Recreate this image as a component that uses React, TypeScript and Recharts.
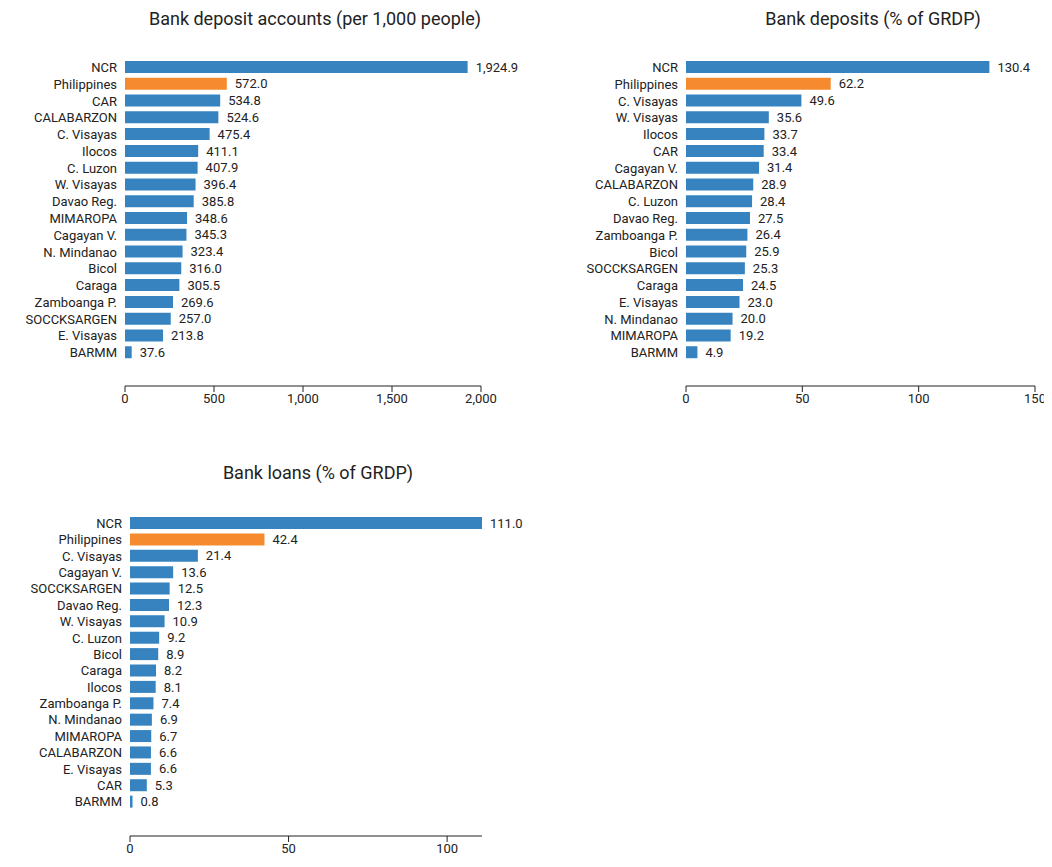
import React from "react";
import { BarChart, Bar, XAxis, YAxis, LabelList, Cell } from "recharts";

const accRegions = ["NCR","Philippines","CAR","CALABARZON","C. Visayas","Ilocos","C. Luzon","W. Visayas","Davao Reg.","MIMAROPA","Cagayan V.","N. Mindanao","Bicol","Caraga","Zamboanga P.","SOCCKSARGEN","E. Visayas","BARMM"];
const accValues = [1924.9,572.0,534.8,524.6,475.4,411.1,407.9,396.4,385.8,348.6,345.3,323.4,316.0,305.5,269.6,257.0,213.8,37.6];
const depRegions = ["NCR","Philippines","C. Visayas","W. Visayas","Ilocos","CAR","Cagayan V.","CALABARZON","C. Luzon","Davao Reg.","Zamboanga P.","Bicol","SOCCKSARGEN","Caraga","E. Visayas","N. Mindanao","MIMAROPA","BARMM"];
const depValues = [130.4,62.2,49.6,35.6,33.7,33.4,31.4,28.9,28.4,27.5,26.4,25.9,25.3,24.5,23.0,20.0,19.2,4.9];
const loanRegions = ["NCR","Philippines","C. Visayas","Cagayan V.","SOCCKSARGEN","Davao Reg.","W. Visayas","C. Luzon","Bicol","Caraga","Ilocos","Zamboanga P.","N. Mindanao","MIMAROPA","CALABARZON","E. Visayas","CAR","BARMM"];
const loanValues = [111.0,42.4,21.4,13.6,12.5,12.3,10.9,9.2,8.9,8.2,8.1,7.4,6.9,6.7,6.6,6.6,5.3,0.8];

const BLUE = "#3683bf";
const ORANGE = "#f58b2e";
const FONT = "Roboto, sans-serif";
const fmt = (v: number) => v.toLocaleString("en-US", { minimumFractionDigits: 1, maximumFractionDigits: 1 });

function Panel(props: any) {
  const { regions, values, domain, ticks, left, top, width, height, yWidth, mt, mr, pad, title, titleX, titleY } = props;
  const data = regions.map((r: string, i: number) => ({ name: r, value: values[i] }));
  return (
    <>
      <div style={{ position: "absolute", left: titleX - 250, top: titleY - 12, width: 500, textAlign: "center", fontFamily: FONT, fontSize: 18, color: "#222" }}>{title}</div>
      <div style={{ position: "absolute", left, top }}>
        <BarChart width={width} height={height} data={data} layout="vertical" margin={{ top: mt, right: mr, bottom: 0, left: 0 }} barCategoryGap={2}>
          <XAxis type="number" domain={domain} ticks={ticks} tickFormatter={(v: number) => v.toLocaleString("en-US")} tick={{ fill: "#222", fontSize: 13, fontFamily: FONT }} stroke="#222" tickSize={6} height={30} />
          <YAxis type="category" dataKey="name" width={yWidth} axisLine={false} tickLine={false} tickSize={0} tickMargin={8} interval={0} padding={{ top: 0, bottom: pad }} tick={{ fill: "#222", fontSize: 13, fontFamily: FONT }} />
          <Bar dataKey="value" isAnimationActive={false} barSize={12}>
            {data.map((d: any, i: number) => <Cell key={i} fill={d.name === "Philippines" ? ORANGE : BLUE} />)}
            <LabelList dataKey="value" position="right" offset={8} formatter={fmt} style={{ fill: "#222", fontSize: 13, fontFamily: FONT }} />
          </Bar>
        </BarChart>
      </div>
    </>
  );
}

export default function App() {
  return (
    <div style={{ position: "relative", width: 1052, height: 867 }}>
      <style>{"svg.recharts-surface{overflow:visible}"}</style>
      <Panel regions={accRegions} values={accValues} domain={[0, 2000]} ticks={[0, 500, 1000, 1500, 2000]} left={-8} top={42} width={560} height={366} yWidth={125} mt={9} mr={79} pad={25} title="Bank deposit accounts (per 1,000 people)" titleX={307} titleY={12} />
      <Panel regions={depRegions} values={depValues} domain={[0, 150]} ticks={[0, 50, 100, 150]} left={552} top={42} width={490} height={366} yWidth={126} mt={9} mr={15} pad={25} title="Bank deposits (% of GRDP)" titleX={865} titleY={12} />
      <Panel regions={loanRegions} values={loanValues} domain={[0, 111]} ticks={[0, 50, 100]} left={-8} top={492} width={560} height={366} yWidth={130} mt={15} mr={78} pad={26} title="Bank loans (% of GRDP)" titleX={310} titleY={466} />
    </div>
  );
}
